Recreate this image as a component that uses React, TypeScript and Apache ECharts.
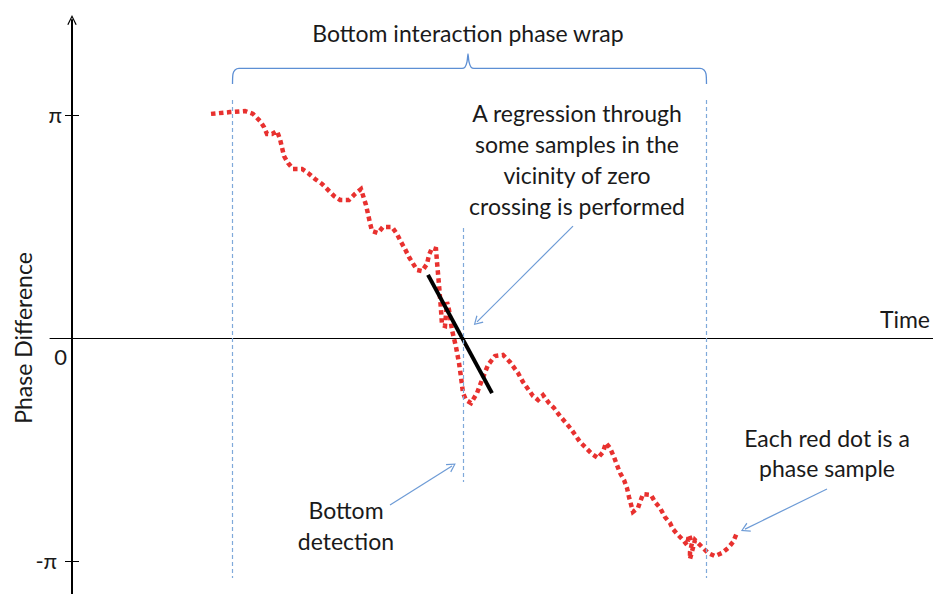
import { useEffect, useRef } from "react";
import * as echarts from "echarts";

// Phase samples: time (arbitrary units) and phase difference (in units of π)
const TIME = [
  13.9, 15.8, 17.3, 18.1, 18.8, 19.2, 19.5, 20.0, 20.5, 20.8,
  21.2, 21.6, 22.1, 23.0, 23.6, 24.3, 25.0, 25.6, 26.2, 26.8,
  27.7, 28.3, 28.9, 29.4, 29.8, 30.0, 30.6, 31.1, 32.0, 32.5,
  32.9, 33.3, 33.7, 34.5, 35.0, 35.5, 35.7, 36.0, 36.4, 36.5,
  36.7, 36.9, 37.0, 37.3, 37.5, 37.7, 38.0, 38.4, 38.7, 38.9,
  39.1, 39.4, 39.9, 40.5, 41.0, 41.6, 42.3, 43.1, 43.8, 44.6,
  45.1, 45.6, 46.1, 46.6, 47.1, 47.7, 48.2, 48.8, 49.4, 49.9,
  50.4, 50.8, 51.4, 52.0, 52.6, 53.1, 53.4, 53.8, 54.2, 54.5,
  54.8, 55.2, 55.5, 55.7, 56.1, 56.6, 57.1, 57.9, 58.3, 58.8,
  59.3, 59.8, 60.1, 60.6, 61.1, 61.5, 61.7, 62.0, 61.8, 61.8,
  62.3, 63.0, 63.6, 64.3, 65.0, 65.6, 66.1, 66.5,
];
const PHASE = [
  1.005, 1.013, 1.018, 1.005, 0.973, 0.946, 0.915, 0.915, 0.928, 0.892,
  0.816, 0.785, 0.758, 0.758, 0.74, 0.713, 0.691, 0.664, 0.637, 0.619,
  0.619, 0.646, 0.668, 0.596, 0.516, 0.48, 0.471, 0.498, 0.498, 0.466,
  0.431, 0.399, 0.363, 0.305, 0.3, 0.332, 0.372, 0.404, 0.399, 0.341,
  0.238, 0.126, 0.058, 0.054, 0.161, 0.126, 0.036, -0.04, -0.112, -0.175,
  -0.247, -0.278, -0.292, -0.247, -0.188, -0.121, -0.081, -0.076, -0.108, -0.157,
  -0.197, -0.229, -0.26, -0.278, -0.256, -0.292, -0.314, -0.35, -0.381, -0.408,
  -0.44, -0.466, -0.493, -0.52, -0.538, -0.511, -0.471, -0.493, -0.534, -0.57,
  -0.605, -0.637, -0.673, -0.713, -0.78, -0.762, -0.7, -0.704, -0.735, -0.762,
  -0.803, -0.83, -0.857, -0.883, -0.906, -0.928, -0.883, -0.919, -0.96, -0.991,
  -0.906, -0.937, -0.964, -0.978, -0.964, -0.942, -0.915, -0.874,
];

// Regression line through samples near zero crossing
const REG_TIME = [35.6, 42.0];
const REG_PHASE = [0.283, -0.247];

// Brace marking the bottom interaction phase wrap
const BRACE_TIME = [16.05, 16.1, 16.3, 16.7, 39.0, 39.3, 39.5, 39.6, 39.7, 39.9, 40.2, 62.8, 63.2, 63.4, 63.45];
const BRACE_PHASE = [1.139, 1.184, 1.202, 1.209, 1.209, 1.215, 1.238, 1.274, 1.238, 1.215, 1.209, 1.209, 1.202, 1.184, 1.139];

// Dashed vertical markers (wrap start, bottom detection, wrap end)
const MARKER_TIME = [16.0, 39.1, 63.4];
const MARKER_TOP = [1.067, 0.493, 1.067];
const MARKER_BOTTOM = [-1.076, -0.646, -1.076];

// Annotation arrows
const ARROW_FROM: number[][] = [[50.1, 0.502], [31.8, -0.749], [75.5, -0.677]];
const ARROW_TO: number[][] = [[40.5, 0.072], [38.0, -0.574], [67.3, -0.857]];

// Axis ticks
const Y_TICKS = [-1, 1];
const Y_TICK_LABELS = ["-π", "π"];
const ZERO_LABEL = ["0"];

const X_MIN = -2.2;
const X_MAX = 86.1;
const Y_MIN = -1.148;
const Y_MAX = 1.426;

const FONT = "Lato, 'Open Sans', sans-serif";
const TEXT_COLOR = "#1a1a1a";
const CHEVRON = "path://M0,10 L5,0 L10,10 L8.8,10.6 L5,2.6 L1.2,10.6 Z";

export default function App() {
  const ref = useRef<HTMLDivElement>(null);
  useEffect(() => {
    const chart = echarts.init(ref.current!, null, { renderer: "svg" });
    const phaseData = TIME.map((t, i) => [t, PHASE[i]]);
    const regData = REG_TIME.map((t, i) => [t, REG_PHASE[i]]);
    const braceData = BRACE_TIME.map((t, i) => [t, BRACE_PHASE[i]]);
    const markerLines = MARKER_TIME.map((t, i) => [
      { coord: [t, MARKER_TOP[i]] },
      { coord: [t, MARKER_BOTTOM[i]] },
    ]);
    const arrowLines = ARROW_FROM.map((f, i) => [{ coord: f }, { coord: ARROW_TO[i] }]);

    const textEl = (text: string, x: number, y: number, extra: any = {}) => ({
      type: "text",
      x,
      y,
      ...extra,
      style: {
        text,
        fill: TEXT_COLOR,
        fontSize: 23,
        fontFamily: FONT,
        align: "center",
        textAlign: "center",
        verticalAlign: "middle",
        textVerticalAlign: "middle",
        ...(extra.style || {}),
      },
    });

    chart.setOption({
      animation: false,
      backgroundColor: "#ffffff",
      grid: { left: 50, right: 0, top: 20, bottom: 0, containLabel: false },
      xAxis: [
        {
          type: "value",
          min: X_MIN,
          max: X_MAX,
          axisLine: { show: true, onZero: true, lineStyle: { color: "#000", width: 1 } },
          axisTick: { show: false },
          axisLabel: { show: false },
          splitLine: { show: false },
        },
        {
          type: "value",
          min: X_MIN,
          max: X_MAX,
          show: false,
          axisLine: { show: false, onZero: false },
          splitLine: { show: false },
        },
      ],
      yAxis: [
        {
          type: "value",
          min: Y_MIN,
          max: Y_MAX,
          position: "left",
          axisLine: {
            show: true,
            onZero: true,
            onZeroAxisIndex: 0,
            symbol: ["none", CHEVRON],
            symbolSize: [12, 10],
            lineStyle: { color: "#000", width: 2 },
          },
          axisTick: {
            show: true,
            customValues: Y_TICKS,
            length: 7,
            lineStyle: { color: "#000", width: 1 },
          },
          axisLabel: {
            customValues: Y_TICKS,
            formatter: (v: number) => {
              const idx = Y_TICKS.indexOf(Math.round(v));
              return idx === 0 ? "{n|" + Y_TICK_LABELS[idx] + "}" : Y_TICK_LABELS[idx] ?? "";
            },
            margin: -12,
            fontSize: 22,
            color: TEXT_COLOR,
            fontFamily: FONT,
            rich: { n: { fontSize: 22, fontFamily: FONT, color: TEXT_COLOR, padding: [0, 5, 0, 0] } },
          },
          splitLine: { show: false },
        },
        {
          type: "value",
          min: Y_MIN,
          max: Y_MAX,
          position: "left",
          axisLine: { show: false, onZero: true, onZeroAxisIndex: 1 },
          axisTick: {
            show: true,
            inside: true,
            customValues: Y_TICKS,
            length: 7,
            lineStyle: { color: "#000", width: 1 },
          },
          axisLabel: {
            customValues: [0],
            formatter: () => ZERO_LABEL[0],
            margin: -17,
            fontSize: 22,
            color: TEXT_COLOR,
            fontFamily: FONT,
            verticalAlign: "top",
            lineHeight: 38,
          },
          splitLine: { show: false },
        },
      ],
      series: [
        {
          name: "Phase sample",
          type: "line",
          data: phaseData,
          showSymbol: false,
          symbol: "none",
          lineStyle: { color: "#e8312f", width: 4.5, type: [4.5, 3.5], cap: "butt", join: "miter" },
          silent: true,
          z: 3,
          markLine: {
            silent: true,
            symbol: ["none", "none"],
            label: { show: false },
            lineStyle: { color: "#7fa9da", width: 1.2, type: [4, 3] },
            data: markerLines,
          },
        },
        {
          name: "Regression",
          type: "line",
          data: regData,
          showSymbol: false,
          symbol: "none",
          lineStyle: { color: "#000", width: 4, cap: "butt" },
          silent: true,
          z: 4,
        },
        {
          name: "Brace",
          type: "line",
          data: braceData,
          showSymbol: false,
          symbol: "none",
          smooth: 0.25,
          lineStyle: { color: "#5d8fd4", width: 1.3 },
          silent: true,
          markLine: {
            silent: true,
            symbol: ["none", CHEVRON],
            symbolSize: [10, 9],
            label: { show: false },
            lineStyle: { color: "#6d9bd6", width: 1.2, type: "solid" },
            data: arrowLines,
          },
        },
      ],
      graphic: [
        textEl("Bottom interaction phase wrap", 468, 33),
        textEl("A regression through\nsome samples in the\nvicinity of zero\ncrossing is performed", 577, 159, {
          style: { lineHeight: 31 },
        }),
        textEl("Bottom\ndetection", 346, 525, { style: { lineHeight: 31 } }),
        textEl("Each red dot is a\nphase sample", 827, 453, { style: { lineHeight: 30 } }),
        textEl("Time", 930, 319, { style: { align: "right", textAlign: "right" } }),
        textEl("Phase Difference", 23, 338, { rotation: Math.PI / 2 }),
      ],
    });
    return () => chart.dispose();
  }, []);
  return (
    <div
      ref={ref}
      style={{ position: "fixed", left: 0, top: 0, width: 933, height: 594, background: "#fff" }}
    />
  );
}
